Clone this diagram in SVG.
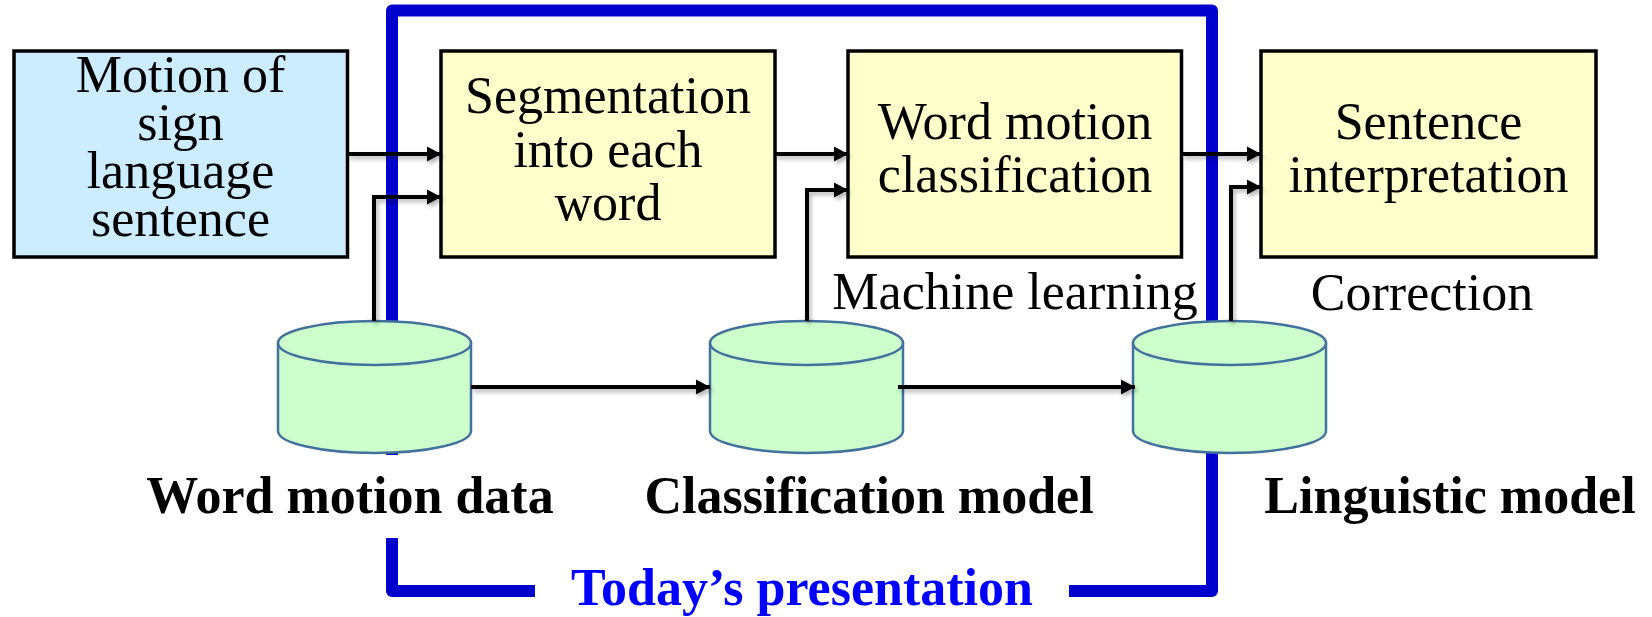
<svg xmlns="http://www.w3.org/2000/svg" width="1652" height="617" viewBox="0 0 1652 617">
<style>
.box{stroke:#000;stroke-width:3.5}
.proc{fill:#FFFFCC}
.input{fill:#CCECFF}
.cyl{fill:#CCFFCC;stroke:#41719C;stroke-width:2.5}
.t{font-family:"Liberation Serif","Times New Roman",serif;font-size:52px;fill:#000;text-anchor:middle}
.b{font-family:"Liberation Serif","Times New Roman",serif;font-size:52px;font-weight:bold;fill:#000;text-anchor:middle}
.frame{fill:none;stroke:#0000CC;stroke-width:12;stroke-linejoin:round;stroke-linecap:butt}
.conn{fill:none;stroke:#000;stroke-width:4;marker-end:url(#ah)}
</style>
<defs>
<marker id="ah" markerUnits="userSpaceOnUse" markerWidth="16" markerHeight="16" refX="14" refY="8" orient="auto">
<path d="M0,0.5 L14,8 L0,15.5 Z" fill="#000"/>
</marker>
<filter id="sh" x="-10%" y="-50%" width="130%" height="250%">
<feDropShadow dx="2" dy="3" stdDeviation="2" flood-color="#000" flood-opacity="0.3"/>
</filter>
</defs>
<rect width="1652" height="617" fill="#fff"/>

<g id="frame">
<path class="frame" d="M392,455 L392,10.5 L1212,10.5 L1212,591 L1069,591"/>
<path class="frame" d="M392,538 L392,591 L535,591"/>
<text x="802" y="605" class="b" style="fill:#0000FF">Today’s presentation</text>
</g>

<g id="input">
<rect class="box input" x="14" y="51" width="333.5" height="206"/>
<text class="t" x="180.5" y="92">Motion of</text>
<text class="t" x="180.5" y="140">sign</text>
<text class="t" x="180.5" y="188">language</text>
<text class="t" x="180.5" y="236">sentence</text>
</g>

<g id="segmentation">
<rect class="box proc" x="441" y="51" width="334" height="206"/>
<text class="t" x="608" y="113">Segmentation</text>
<text class="t" x="608" y="167">into each</text>
<text class="t" x="608" y="220">word</text>
</g>

<g id="classification">
<rect class="box proc" x="848" y="51" width="333.5" height="206"/>
<text class="t" x="1015" y="139">Word motion</text>
<text class="t" x="1015" y="192">classification</text>
<text class="t" x="1015" y="309">Machine learning</text>
</g>

<g id="interpretation">
<rect class="box proc" x="1261" y="51" width="335" height="206"/>
<text class="t" x="1428.5" y="139">Sentence</text>
<text class="t" x="1428.5" y="192">interpretation</text>
<text class="t" x="1422" y="310">Correction</text>
</g>

<g id="word-motion-data">
<path class="cyl" d="M278,343 L278,431 A96.5,22 0 0 0 471,431 L471,343"/>
<ellipse class="cyl" cx="374.5" cy="343" rx="96.5" ry="22"/>
<text class="b" x="350" y="513">Word motion data</text>
</g>

<g id="classification-model">
<path class="cyl" d="M710,343 L710,431 A96.5,22 0 0 0 903,431 L903,343"/>
<ellipse class="cyl" cx="806.5" cy="343" rx="96.5" ry="22"/>
<text class="b" x="869" y="513">Classification model</text>
</g>

<g id="linguistic-model">
<path class="cyl" d="M1133,343 L1133,431 A96.5,22 0 0 0 1326,431 L1326,343"/>
<ellipse class="cyl" cx="1229.5" cy="343" rx="96.5" ry="22"/>
<text class="b" x="1450" y="513">Linguistic model</text>
</g>

<g id="connectors" filter="url(#sh)">
<path class="conn" d="M347.5,154 L441,154"/>
<path class="conn" d="M374,321 L374,197 L441,197"/>
<path class="conn" d="M775,154 L848,154"/>
<path class="conn" d="M807,321 L807,190 L848,190"/>
<path class="conn" d="M1181.5,154 L1261,154"/>
<path class="conn" d="M1231,321 L1231,187 L1261,187"/>
<path class="conn" d="M471,387 L710,387"/>
<path class="conn" d="M898,387 L1135,387"/>
</g>
</svg>
